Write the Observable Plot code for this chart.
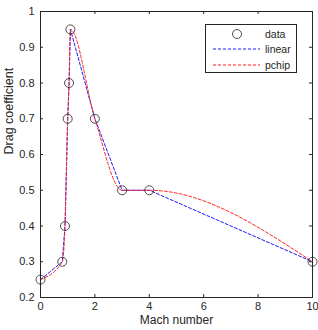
<!DOCTYPE html>
<html>
<head>
<meta charset="utf-8">
<script src="https://cdn.jsdelivr.net/npm/d3@7"></script>
<script src="https://cdn.jsdelivr.net/npm/@observablehq/plot@0.6"></script>
<style>
  html, body { margin: 0; padding: 0; background: #fff; }
  #chart { position: relative; width: 318px; height: 330px; font-family: "Liberation Sans", Arial, sans-serif; }
  #legend { position: absolute; left: 205px; top: 24px; }
</style>
</head>
<body>
<div id="chart"></div>
<script>
// Drag coefficient samples against Mach number
const mach = [0, 0.8, 0.9, 1.0, 1.05, 1.1, 2, 3, 4, 10];
const drag = [0.25, 0.3, 0.4, 0.7, 0.8, 0.95, 0.7, 0.5, 0.5, 0.3];

const xTicks = [0, 2, 4, 6, 8, 10];
const yTicks = [0.2, 0.3, 0.4, 0.5, 0.6, 0.7, 0.8, 0.9, 1];

const legendLabels = ["data", "linear", "pchip"];
const lineColors = { linear: "#1a1aff", pchip: "#ff2020" };

const samples = mach.map((m, i) => ({ mach: m, drag: drag[i] }));

const W = 318, H = 330;
const margin = { top: 11, right: 6, bottom: 33, left: 40 };
const innerW = W - margin.left - margin.right;
const innerH = H - margin.top - margin.bottom;
const ink = "#262626";
const dash = "3,2";

const plot = Plot.plot({
  width: W,
  height: H,
  marginTop: margin.top,
  marginRight: margin.right,
  marginBottom: margin.bottom,
  marginLeft: margin.left,
  style: { fontFamily: "Liberation Sans, Arial, sans-serif", color: ink, background: "white" },
  x: { domain: [0, 10], label: null },
  y: { domain: [0.2, 1], label: null },
  marks: [
    // inward tick marks on all four sides
    Plot.tickX(xTicks, { x: d => d, insetTop: innerH - 3, stroke: ink }),
    Plot.tickX(xTicks, { x: d => d, insetBottom: innerH - 3, stroke: ink }),
    Plot.tickY(yTicks, { y: d => d, insetRight: innerW - 3, stroke: ink }),
    Plot.tickY(yTicks, { y: d => d, insetLeft: innerW - 3, stroke: ink }),
    Plot.axisX({ ticks: xTicks, tickSize: 0, tickPadding: 5, fontSize: 11, tickFormat: d => String(d), label: null }),
    Plot.axisY({ ticks: yTicks, tickSize: 0, tickPadding: 6, fontSize: 11, tickFormat: d => String(d), label: null }),
    Plot.line(samples, { x: "mach", y: "drag", stroke: lineColors.linear, strokeWidth: 1, strokeDasharray: dash }),
    Plot.line(samples, { x: "mach", y: "drag", curve: "monotone-x", stroke: lineColors.pchip, strokeWidth: 1, strokeDasharray: dash }),
    Plot.dot(samples, { x: "mach", y: "drag", r: 4.5, stroke: "#3a3a3a", strokeWidth: 0.9, fill: "none" }),
    Plot.frame({ stroke: ink, strokeWidth: 1 }),
    Plot.text(["Mach number"], { text: d => d, frameAnchor: "bottom", dy: 26.5, fontSize: 12, fill: ink }),
    Plot.text(["Drag coefficient"], { text: d => d, frameAnchor: "left", dx: -32, rotate: -90, fontSize: 12.5, fill: ink })
  ]
});

const chart = document.getElementById("chart");
chart.appendChild(plot);

// Legend box drawn over the upper-right corner of the plot area
const ns = "http://www.w3.org/2000/svg";
const leg = d3.select(chart).append("svg")
  .attr("id", "legend")
  .attr("width", 93).attr("height", 50)
  .attr("xmlns", ns);
leg.append("rect").attr("x", 0.5).attr("y", 0.5).attr("width", 91).attr("height", 48)
  .attr("fill", "white").attr("stroke", ink).attr("stroke-width", 1);
const rowY = [10, 25, 41];
leg.append("circle").attr("cx", 32).attr("cy", rowY[0]).attr("r", 4.5)
  .attr("fill", "none").attr("stroke", "#3a3a3a").attr("stroke-width", 0.9);
leg.append("line").attr("x1", 8).attr("x2", 55).attr("y1", rowY[1]).attr("y2", rowY[1])
  .attr("stroke", lineColors.linear).attr("stroke-dasharray", dash);
leg.append("line").attr("x1", 8).attr("x2", 55).attr("y1", rowY[2]).attr("y2", rowY[2])
  .attr("stroke", lineColors.pchip).attr("stroke-dasharray", dash);
legendLabels.forEach((t, i) => {
  leg.append("text").attr("x", 60).attr("y", rowY[i]).attr("dy", "0.35em")
    .attr("font-size", 10.5).attr("fill", ink)
    .attr("font-family", "Liberation Sans, Arial, sans-serif").text(t);
});
</script>
</body>
</html>
